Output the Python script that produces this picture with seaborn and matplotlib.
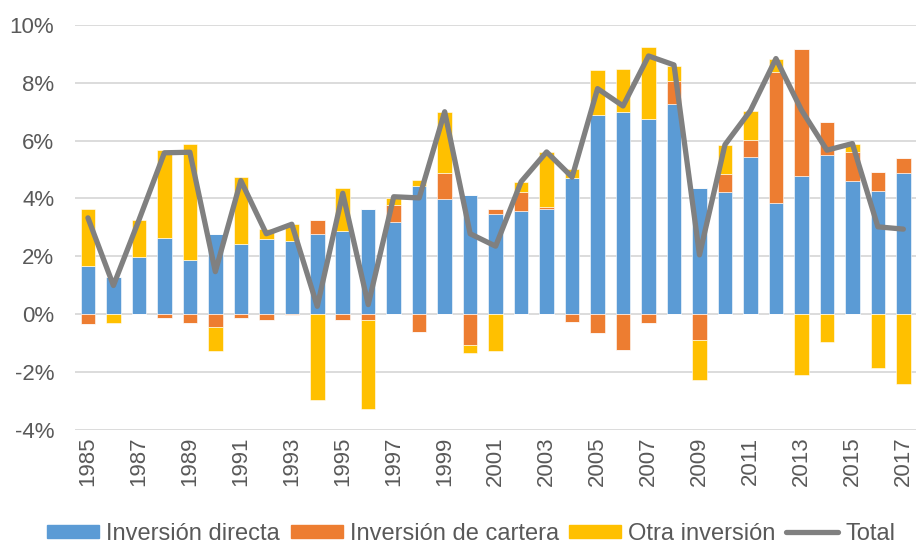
import numpy as np
import pandas as pd
import matplotlib
matplotlib.use("Agg")
import matplotlib.pyplot as plt
import seaborn as sns
from matplotlib.patches import Patch
from matplotlib.lines import Line2D

# Datos (% del PIB)
years = [str(y) for y in range(1985, 2018)]
directa = [1.66, 1.30, 1.96, 2.64, 1.88, 2.78, 2.42, 2.59, 2.53, 2.78,
           2.86, 3.63, 3.20, 4.44, 3.97, 4.12, 3.48, 3.57, 3.62, 4.72,
           6.90, 6.98, 6.75, 7.27, 4.35, 4.23, 5.45, 3.84, 4.78, 5.51,
           4.60, 4.27, 4.89]
cartera = [-0.35, 0.00, 0.00, -0.12, -0.32, -0.46, -0.14, -0.20, -0.03, 0.47,
           -0.22, -0.19, 0.58, -0.63, 0.92, -1.08, 0.15, 0.66, 0.09, -0.27,
           -0.67, -1.25, -0.32, 0.81, -0.89, 0.60, 0.56, 4.54, 4.38, 1.12,
           1.02, 0.64, 0.50]
otra = [1.97, -0.30, 1.29, 3.03, 4.00, -0.83, 2.31, 0.37, 0.58, -2.96,
        1.51, -3.09, 0.25, 0.21, 2.10, -0.25, -1.28, 0.35, 1.89, 0.29,
        1.56, 1.51, 2.49, 0.50, -1.38, 1.03, 1.03, 0.43, -2.11, -0.97,
        0.27, -1.88, -2.43]
total = [3.33, 0.99, 3.25, 5.58, 5.60, 1.47, 4.62, 2.78, 3.11, 0.27,
         4.18, 0.33, 4.06, 4.02, 7.00, 2.78, 2.35, 4.58, 5.61, 4.74,
         7.80, 7.20, 8.93, 8.62, 2.05, 5.86, 7.04, 8.84, 7.06, 5.67,
         5.90, 3.02, 2.94]

series = ["Inversión directa", "Inversión de cartera", "Otra inversión"]
colores = ["#5B9BD5", "#ED7D31", "#FFC000"]
y_ticks = [-4, -2, 0, 2, 4, 6, 8, 10]
y_labels = ["-4%", "-2%", "0%", "2%", "4%", "6%", "8%", "10%"]

sns.set_style("white")
plt.rcParams["font.family"] = ["Liberation Sans", "DejaVu Sans"]
plt.rcParams["font.size"] = 16

fig, ax = plt.subplots(figsize=(9.17, 5.44), dpi=100)
fig.subplots_adjust(left=0.082, right=0.999, top=0.954, bottom=0.21)

df = pd.DataFrame({"year": years, series[0]: directa,
                   series[1]: cartera, series[2]: otra, "Total": total})

# barras apiladas: positivos hacia arriba, negativos hacia abajo
base_pos = np.zeros(len(years))
base_neg = np.zeros(len(years))
for s, c in zip(series, colores):
    v = df[s].to_numpy()
    pos = np.clip(v, 0, None)
    neg = np.clip(v, None, 0)
    sns.barplot(x=df["year"], y=pos, bottom=base_pos, color=c, saturation=1,
                width=0.57, errorbar=None, ax=ax, edgecolor="white",
                linewidth=0.4)
    sns.barplot(x=df["year"], y=neg, bottom=base_neg, color=c, saturation=1,
                width=0.57, errorbar=None, ax=ax, edgecolor="white",
                linewidth=0.4)
    base_pos += pos
    base_neg += neg

sns.lineplot(x=df["year"], y=df["Total"], color="#808080", linewidth=3.8,
             ax=ax, zorder=5)

ax.set_ylim(-4, 10)
ax.set_yticks(y_ticks)
ax.set_yticklabels(y_labels)
ax.set_xlim(-0.5, len(years) - 0.5)
ax.set_xticks(range(0, len(years), 2))
ax.set_xticklabels(years[::2], rotation=90)
ax.set_xlabel("")
ax.set_ylabel("")
ax.grid(axis="y", color="#D9D9D9", linewidth=1.3, zorder=0)
ax.set_axisbelow(True)
for sp in ax.spines.values():
    sp.set_visible(False)
ax.tick_params(axis="y", length=0, pad=15, colors="#595959", labelsize=16)
ax.tick_params(axis="x", length=0, pad=5, colors="#595959", labelsize=16)

handles = [Patch(color=c) for c in colores]
handles.append(Line2D([0], [0], color="#808080", linewidth=3.8))
fig.legend(handles, series + ["Total"], loc="center",
           bbox_to_anchor=(0.514, 0.019), ncol=4, frameon=False,
           fontsize=17, handlelength=2.2, handleheight=0.5,
           handletextpad=0.3, columnspacing=0.45, labelcolor="#595959")

plt.savefig("out.png", dpi=100)
